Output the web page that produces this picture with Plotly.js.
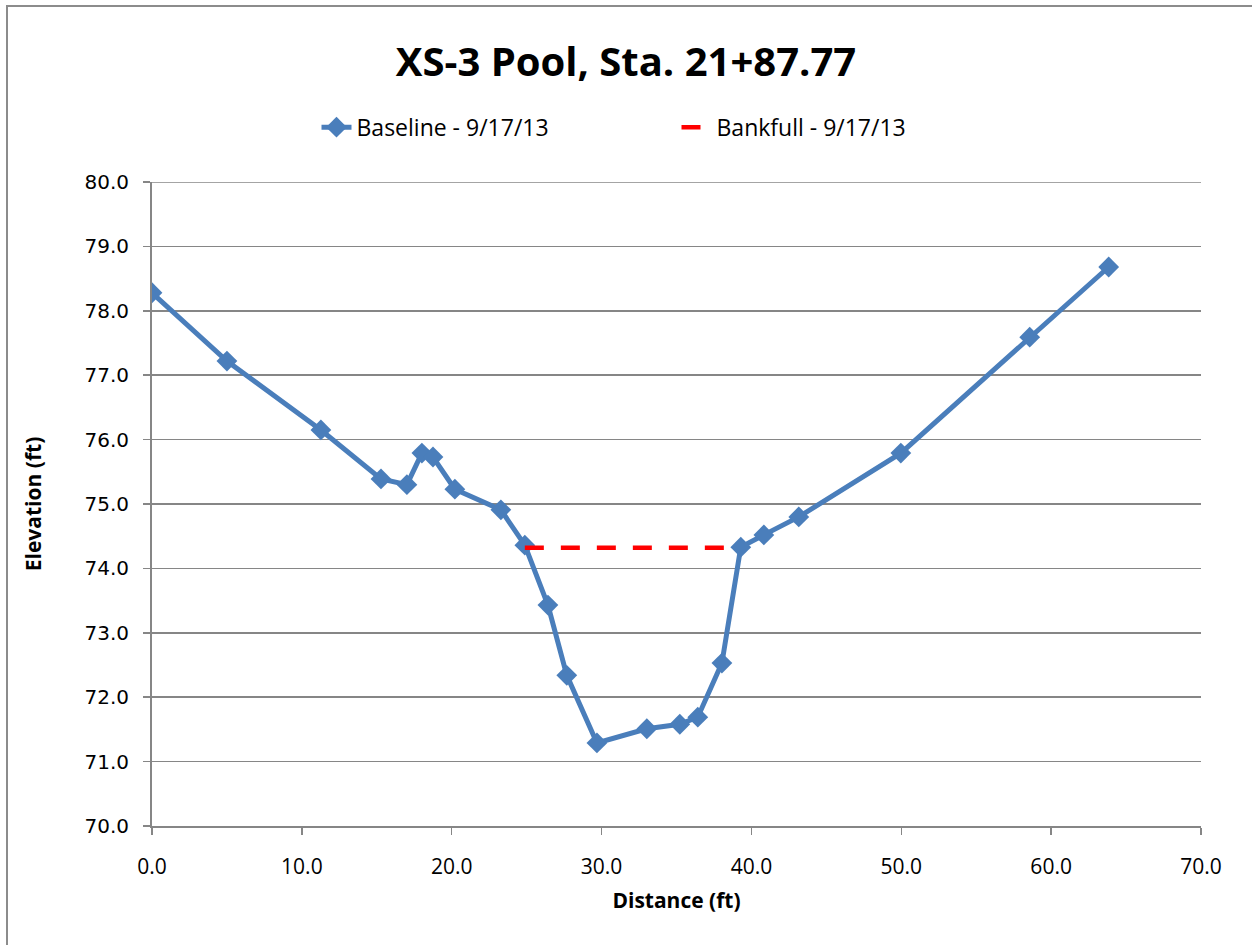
<!DOCTYPE html>
<html>
<head>
<meta charset="utf-8">
<script src="https://cdn.plot.ly/plotly-3.0.1.min.js"></script>
<style>
  html, body { margin: 0; padding: 0; background: #fff; overflow: hidden; }
  #frame { position: absolute; left: 6px; top: 5px; width: 1300px; height: 1000px;
           border-left: 2px solid #8c8c8c; border-top: 2px solid #8c8c8c; pointer-events: none; z-index: 5; }
  #chart { position: absolute; left: 0; top: 0; width: 1252px; height: 945px; }
</style>
</head>
<body>
<div id="chart"></div>
<div id="frame"></div>
<script>
// Baseline survey - 9/17/13
const baselineDistance = [0.0, 5.0, 11.27, 15.28, 17.01, 18.01, 18.75, 20.21, 23.28, 24.88, 26.42, 27.68, 29.69, 33.02, 35.22, 36.42, 38.03, 39.29, 40.83, 43.16, 49.97, 58.57, 63.84];
const baselineElevation = [78.28, 77.22, 76.15, 75.39, 75.30, 75.79, 75.73, 75.23, 74.91, 74.36, 73.43, 72.34, 71.29, 71.51, 71.58, 71.69, 72.53, 74.33, 74.52, 74.80, 75.79, 77.59, 78.68];
// Bankfull - 9/17/13
const bankfullDistance = [24.88, 39.29];
const bankfullElevation = [74.32, 74.32];

const xTickVals = [0, 10, 20, 30, 40, 50, 60, 70];
const yTickVals = [70, 71, 72, 73, 74, 75, 76, 77, 78, 79, 80];

const baseFont = "'Open Sans', 'Noto Sans', sans-serif";

const traces = [
  {
    x: baselineDistance, y: baselineElevation, name: 'Baseline - 9/17/13',
    type: 'scatter', mode: 'lines+markers',
    line: { color: '#4a7ebb', width: 5 },
    marker: { symbol: 'diamond', size: 16, color: '#4a7ebb' }
  },
  {
    x: bankfullDistance, y: bankfullElevation, name: 'Bankfull - 9/17/13',
    type: 'scatter', mode: 'lines',
    line: { color: '#ff0000', width: 4.5, dash: '19px,17px' }
  }
];

const layout = {
  width: 1252, height: 945,
  paper_bgcolor: '#ffffff', plot_bgcolor: '#ffffff',
  margin: { l: 152, r: 51, t: 182, b: 119 },
  font: { family: baseFont, color: '#000000', size: 20 },
  title: { text: '<b>XS-3 Pool, Sta. 21+87.77</b>', font: { family: baseFont, size: 40, color: '#000' },
           x: 0.5, xanchor: 'center', y: 0.934, yanchor: 'middle' },
  showlegend: true,
  legend: { orientation: 'h', x: 0.5, xanchor: 'center', y: 1.085, yanchor: 'middle',
            entrywidth: 315, entrywidthmode: 'pixels',
            font: { family: baseFont, size: 23, color: '#000' }, tracegroupgap: 0 },
  shapes: [
    { type: 'line', xref: 'paper', yref: 'y', x0: 0, x1: 1, y0: 80, y1: 80,
      line: { color: '#868686', width: 1.5 }, layer: 'below' }
  ],
  xaxis: {
    range: [0, 70], tickvals: xTickVals, ticktext: xTickVals.map(v => v.toFixed(1)),
    showgrid: false, zeroline: false, showline: true, linecolor: '#868686', linewidth: 2,
    ticks: 'outside', ticklen: 7, tickcolor: '#868686', tickwidth: 1.5,
    ticklabelstandoff: 14,
    tickfont: { family: baseFont, size: 21, color: '#000' },
    title: { text: '<b>Distance (ft)</b>', font: { family: baseFont, size: 21, color: '#000' }, standoff: 14 }
  },
  yaxis: {
    range: [70, 80], tickvals: yTickVals, ticktext: yTickVals.map(v => v.toFixed(1)),
    showgrid: true, gridcolor: '#868686', gridwidth: 1.5, zeroline: false,
    showline: true, linecolor: '#868686', linewidth: 2,
    ticks: 'outside', ticklen: 7, tickcolor: '#868686', tickwidth: 1.5,
    ticklabelstandoff: 10,
    tickfont: { family: "'DejaVu Sans', sans-serif", size: 20, color: '#000' },
    title: { text: '<b>Elevation (ft)</b>', font: { family: baseFont, size: 21, color: '#000' }, standoff: 37 }
  }
};

Plotly.newPlot('chart', traces, layout, { staticPlot: true, displayModeBar: false });
</script>
</body>
</html>
